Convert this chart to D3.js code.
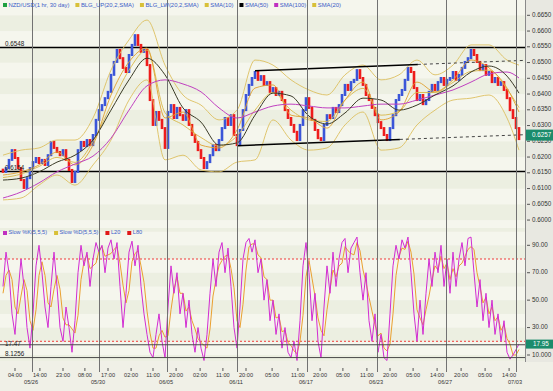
<!DOCTYPE html>
<html><head><meta charset="utf-8">
<script src="https://cdn.jsdelivr.net/npm/d3@7"></script>
<style>
html,body{margin:0;padding:0;background:#fff;}
svg{display:block;font-family:"Liberation Sans",Arial,sans-serif;}
</style></head><body>
<svg id="c" width="553" height="391"></svg>
<script>
// ---------------- DATA ----------------
const firstOpen = 0.6160;
const closes = [0.6153,0.6165,0.6191,0.6222,0.6197,0.6165,0.6127,0.6102,0.6133,0.6165,
0.6184,0.6197,0.6181,0.6191,0.6175,0.6206,0.6248,0.6229,0.6216,0.6206,
0.6222,0.6191,0.6159,0.6121,0.6153,0.6222,0.6248,0.6235,0.6254,0.6238,
0.6270,0.6318,0.6349,0.6365,0.6387,0.6407,0.6461,0.6502,0.6540,0.6514,
0.6483,0.6470,0.6524,0.6556,0.6587,0.6556,0.6534,0.6540,0.6492,0.6381,
0.6302,0.6343,0.6318,0.6292,0.6229,0.6343,0.6365,0.6324,0.6356,0.6333,
0.6318,0.6349,0.6302,0.6270,0.6248,0.6222,0.6197,0.6165,0.6184,0.6206,
0.6238,0.6222,0.6254,0.6292,0.6324,0.6302,0.6333,0.6270,0.6238,0.6286,
0.6349,0.6397,0.6429,0.6451,0.6470,0.6445,0.6457,0.6429,0.6438,0.6407,
0.6419,0.6397,0.6407,0.6381,0.6349,0.6324,0.6302,0.6280,0.6254,0.6302,
0.6349,0.6387,0.6356,0.6318,0.6286,0.6260,0.6254,0.6302,0.6333,0.6324,
0.6356,0.6343,0.6365,0.6397,0.6429,0.6413,0.6438,0.6445,0.6476,0.6451,
0.6429,0.6397,0.6381,0.6356,0.6333,0.6311,0.6292,0.6270,0.6254,0.6292,
0.6333,0.6381,0.6397,0.6413,0.6445,0.6483,0.6470,0.6419,0.6381,0.6397,
0.6368,0.6381,0.6407,0.6429,0.6413,0.6438,0.6451,0.6429,0.6445,0.6451,
0.6470,0.6445,0.6461,0.6483,0.6502,0.6514,0.6540,0.6524,0.6502,0.6476,
0.6492,0.6461,0.6470,0.6438,0.6451,0.6429,0.6438,0.6413,0.6387,0.6349,
0.6324,0.6292,0.6257];

const maIdx  = [0,6,12,18,24,30,36,42,48,54,60,66,72,78,84,90,96,102,108,114,120,126,132,138,144,150,156,162,168,172];
const sma50  = [0.6127,0.6133,0.6153,0.6184,0.6206,0.6254,0.6349,0.6445,0.6514,0.6461,0.6356,0.6311,0.6238,0.6245,0.6333,0.6403,0.6394,0.6330,0.6305,0.6340,0.6387,0.6381,0.6349,0.6365,0.6397,0.6426,0.6470,0.6489,0.6457,0.6403];
const sma100 = [0.6070,0.6089,0.6118,0.6153,0.6178,0.6203,0.6260,0.6349,0.6426,0.6445,0.6432,0.6407,0.6356,0.6324,0.6343,0.6362,0.6368,0.6362,0.6356,0.6356,0.6362,0.6368,0.6368,0.6381,0.6397,0.6413,0.6438,0.6464,0.6470,0.6451];
const bbUp   = [0.6206,0.6222,0.6229,0.6254,0.6254,0.6324,0.6476,0.6572,0.6635,0.6492,0.6397,0.6365,0.6318,0.6349,0.6508,0.6492,0.6445,0.6413,0.6397,0.6461,0.6492,0.6445,0.6461,0.6508,0.6461,0.6492,0.6556,0.6556,0.6508,0.6492];
const bbLow  = [0.6064,0.6070,0.6111,0.6143,0.6111,0.6175,0.6254,0.6381,0.6445,0.6191,0.6206,0.6159,0.6153,0.6184,0.6191,0.6318,0.6254,0.6222,0.6229,0.6302,0.6343,0.6222,0.6229,0.6302,0.6349,0.6381,0.6387,0.6397,0.6324,0.6222];
const sma20  = [0.6135,0.6146,0.6170,0.6199,0.6183,0.6249,0.6365,0.6476,0.6540,0.6341,0.6302,0.6262,0.6235,0.6267,0.6349,0.6405,0.6349,0.6318,0.6313,0.6381,0.6418,0.6333,0.6345,0.6405,0.6405,0.6437,0.6472,0.6476,0.6416,0.6357];
const sma10  = [0.6143,0.6153,0.6175,0.6216,0.6175,0.6238,0.6397,0.6502,0.6546,0.6324,0.6343,0.6238,0.6229,0.6286,0.6419,0.6429,0.6333,0.6324,0.6292,0.6381,0.6438,0.6318,0.6343,0.6438,0.6407,0.6445,0.6508,0.6483,0.6419,0.6343];

const stochK = [60,85,70,40,25,55,80,60,30,15,
40,75,90,70,45,30,60,85,60,30,
20,45,30,12,35,70,90,75,85,60,
80,92,85,90,70,88,94,80,92,60,
30,55,85,93,75,90,60,40,25,12,
8,25,40,20,8,45,75,55,70,40,
55,30,50,25,12,30,15,6,25,55,
80,60,85,92,70,88,60,30,15,45,
80,92,95,85,94,70,80,50,65,35,
50,25,40,15,30,12,8,20,6,35,
75,92,70,35,55,20,8,45,75,55,
85,60,80,92,95,70,88,92,96,70,
50,70,35,20,40,12,25,8,6,40,
75,90,80,94,88,96,70,40,20,50,
25,55,80,60,85,70,90,60,80,55,
85,60,80,92,75,95,96,70,45,65,
35,55,30,50,25,40,20,35,12,7,
10,14,17.95];
const stochD = [55,68,72,65,45,40,53,65,57,35,
28,43,68,78,68,48,45,58,68,58,
37,32,32,29,26,39,65,78,83,73,
75,77,86,89,82,83,84,87,89,77,
61,48,57,78,84,86,75,63,42,26,
15,15,24,28,23,24,43,58,67,55,
55,42,45,35,29,22,19,17,15,29,
53,65,75,79,82,83,73,59,35,30,
47,72,89,91,91,83,81,67,65,50,
50,37,38,27,28,19,17,13,11,20,
39,67,79,66,53,37,28,24,43,58,
72,67,75,77,89,86,84,83,92,86,
72,63,52,42,32,24,26,15,13,18,
40,68,82,88,87,93,85,69,43,37,
32,43,53,65,75,72,82,73,77,65,
73,67,75,77,82,87,89,87,70,60,
48,52,40,45,35,38,28,32,22,18,
10,10,14];

const priceTicks = [0.6000,0.6050,0.6100,0.6150,0.6200,0.6250,0.6300,0.6350,0.6400,0.6450,0.6500,0.6550,0.6600,0.6650];
const stochTicks = [10,30,50,70,90];
const stochTickLabels = ["10.000","30.00","50.00","70.00","90.00"];
const timeTickIdx = [4,12.3,20,27.3,35,42.7,50,57.7,65.7,73.3,81,89.7,98.3,105.7,113.3,121.3,129,136.7,144.7,152.7,160.7,168.7];
const timeTickLabels = ["04:00","14:00","23:00","08:00","17:00","02:00","11:00","20:00","02:00","11:00","20:00","05:00","11:00","20:00","05:00","11:00","20:00","05:00","14:00","20:00","05:00","14:00"];
const dateTickIdx = [9.7,32,54.7,78,101.3,124.7,147.7,171];
const dateTickLabels = ["05/26","05/30","06/05","06/11","06/17","06/23","06/27","07/03"];
const priceLevels = [0.6548,0.6154];
const priceLevelLabels = ["0.6548","0.6154"];
const stochLevels = [17.47,8.1256];
const stochLevelLabels = ["17.47","8.1256"];
const stochBounds = [20,80];
const channelTop = [[84,0.6474],[138.3,0.6494],[174,0.6507]];
const channelBottom = [[78,0.6236],[132.3,0.6256],[174,0.6271]];
const lastPrice = 0.6257, lastStoch = 17.95;
const topLegend = [["NZD/USD(1 hr, 30 day)","#1fa040"],["BLG_UP(20,2,SMA)","#d8c038"],["BLG_LW(20,2,SMA)","#d8c038"],["SMA(10)","#d8c038"],["SMA(50)","#000000"],["SMA(100)","#c030c0"],["SMA(20)","#d8c038"]];
const lowLegend = [["Slow %K(5,5,5)","#c030c0"],["Slow %D(5,5,5)","#d8c038"],["L20","#e01818"],["L80","#e01818"]];

// ---------------- LAYOUT ----------------
const W=553,H=391,PR=525,P_BOT=228,S_TOP=228,S_BOT=361;
const svg = d3.select('#c');
const x = d3.scaleLinear().domain([0,172]).range([3,519]);
const yP = d3.scaleLinear().domain([0.59748,0.66986]).range([P_BOT,0]);
const yS = d3.scaleLinear().domain([10,90]).range([355,245.3]);

const defs = svg.append('defs');
defs.append('clipPath').attr('id','cp').append('rect').attr('x',0).attr('y',0).attr('width',PR).attr('height',P_BOT);
defs.append('clipPath').attr('id','cs').append('rect').attr('x',0).attr('y',S_TOP).attr('width',PR).attr('height',S_BOT-S_TOP);

svg.append('rect').attr('width',W).attr('height',H).attr('fill','#f0f0e7');
svg.append('rect').attr('x',PR).attr('y',0).attr('width',W-PR).attr('height',S_BOT+1).attr('fill','#e8e8e1');

// price bands
const gP = svg.append('g').attr('clip-path','url(#cp)');
d3.range(118,136).forEach(k=>{
  const v=k*0.005;
  gP.append('rect').attr('x',0).attr('width',PR).attr('y',yP(v+0.005)).attr('height',yP(v)-yP(v+0.005))
    .attr('fill', k%2 ? '#f5f6ed' : '#ecefe1');
});
const gS = svg.append('g').attr('clip-path','url(#cs)');
d3.range(-1,11).forEach(k=>{
  const v=k*10;
  gS.append('rect').attr('x',0).attr('width',PR).attr('y',yS(v+10)).attr('height',yS(v)-yS(v+10))
    .attr('fill', (k+10)%2 ? '#f5f6ed' : '#ecefe1');
});

// vertical date lines
svg.append('g').selectAll('line').data(dateTickIdx).join('line')
  .attr('x1',d=>Math.round(x(d))+0.5).attr('x2',d=>Math.round(x(d))+0.5)
  .attr('y1',0).attr('y2',372).attr('stroke','#727272').attr('stroke-width',1);
svg.append('line').attr('x1',PR+0.5).attr('x2',PR+0.5).attr('y1',0).attr('y2',S_BOT+1).attr('stroke','#8a8a8a');

// price level lines
gP.selectAll('line.lv').data(priceLevels).join('line').attr('class','lv')
  .attr('x1',0).attr('x2',PR).attr('y1',d=>yP(d)).attr('y2',d=>yP(d)).attr('stroke','#000').attr('stroke-width',1.5);

// candles
const candles = closes.map((c,i)=>({i, o: i===0?firstOpen:closes[i-1], c}));
gP.append('g').selectAll('rect').data(candles).join('rect')
  .attr('x',d=>x(d.i)-1.3).attr('width',2.6)
  .attr('y',d=>yP(Math.max(d.o,d.c))-1)
  .attr('height',d=>Math.max(2,Math.abs(yP(d.o)-yP(d.c))+2))
  .attr('fill',d=>d.c>=d.o?'#3b55d8':'#ee1c1c');

// moving averages
const maLine = arr => d3.line().x((d,k)=>x(maIdx[k])).y(d=>yP(d)).curve(d3.curveMonotoneX)(arr);
[[bbUp,'#dcc060',0.9],[bbLow,'#dcc060',0.9],[sma20,'#d8b848',0.9],[sma10,'#e0a030',0.9],[sma100,'#c040c0',1],[sma50,'#3a3a26',1]]
.forEach(([arr,col,w])=>{
  gP.append('path').attr('d',maLine(arr)).attr('fill','none').attr('stroke',col).attr('stroke-width',w);
});

// channel lines
const chLine = d3.line().x(d=>x(d[0])).y(d=>yP(d[1]));
[channelTop,channelBottom].forEach(ch=>{
  gP.append('path').attr('d',chLine(ch.slice(0,2))).attr('fill','none').attr('stroke','#000').attr('stroke-width',1.5);
  gP.append('path').attr('d',chLine(ch.slice(1))).attr('fill','none').attr('stroke','#444').attr('stroke-width',1).attr('stroke-dasharray','3,3');
});

// stochastic panel
gS.selectAll('line.sb').data(stochBounds).join('line').attr('class','sb')
  .attr('x1',0).attr('x2',PR).attr('y1',d=>yS(d)).attr('y2',d=>yS(d))
  .attr('stroke','#f03a3a').attr('stroke-width',1).attr('stroke-dasharray','2,2');
svg.selectAll('line.sl').data(stochLevels).join('line').attr('class','sl')
  .attr('x1',0).attr('x2',PR).attr('y1',d=>yS(d)).attr('y2',d=>yS(d)).attr('stroke','#4a4a4a').attr('stroke-width',1);
const sLine = d3.line().x((d,i)=>x(i)).y(d=>yS(d));
gS.append('path').attr('d',sLine(stochD)).attr('fill','none').attr('stroke','#eaa030').attr('stroke-width',1);
gS.append('path').attr('d',sLine(stochK)).attr('fill','none').attr('stroke','#d22cd2').attr('stroke-width',1);

// right axes
const fs = 6.3;
const ra = svg.append('g').attr('font-size',fs).attr('fill','#333');
priceTicks.forEach(v=>{
  ra.append('line').attr('x1',527).attr('x2',530).attr('y1',yP(v)).attr('y2',yP(v)).attr('stroke','#555');
  ra.append('text').attr('x',532).attr('y',yP(v)).attr('dominant-baseline','middle').text(v.toFixed(4));
});
stochTicks.forEach((v,k)=>{
  ra.append('line').attr('x1',527).attr('x2',530).attr('y1',yS(v)).attr('y2',yS(v)).attr('stroke','#555');
  ra.append('text').attr('x',532).attr('y',yS(v)).attr('dominant-baseline','middle').text(stochTickLabels[k]);
});
// last-value labels
const lp = yP(lastPrice)-4;
svg.append('rect').attr('x',526).attr('y',lp-5.5).attr('width',27).attr('height',11).attr('fill','#1b8c6c');
svg.append('text').attr('x',532).attr('y',lp).attr('dominant-baseline','middle').attr('font-size',fs).attr('fill','#fff').text(lastPrice.toFixed(4));
const ls = yS(lastStoch);
svg.append('rect').attr('x',526).attr('y',ls-4.5).attr('width',27).attr('height',9).attr('fill','#1b8c6c');
svg.append('text').attr('x',533).attr('y',ls).attr('dominant-baseline','middle').attr('font-size',fs).attr('fill','#fff').text(lastStoch.toFixed(2));

// left level labels
priceLevels.forEach((v,k)=>{
  svg.append('text').attr('x',5).attr('y',yP(v)-1.5).attr('font-size',6.3).attr('fill','#222').text(priceLevelLabels[k]);
});
stochLevels.forEach((v,k)=>{
  svg.append('text').attr('x',5).attr('y',yS(v)+(k===0?1:-1.5)).attr('font-size',6.3).attr('fill','#222').text(stochLevelLabels[k]);
});

// bottom axis
const ba = svg.append('g').attr('font-size',5.6).attr('fill','#333').attr('text-anchor','middle');
timeTickIdx.forEach((t,k)=>{
  ba.append('line').attr('x1',x(t)).attr('x2',x(t)).attr('y1',368).attr('y2',371).attr('stroke','#555');
  ba.append('text').attr('x',x(t)).attr('y',375.5).attr('dominant-baseline','middle').text(timeTickLabels[k]);
});
dateTickIdx.forEach((t,k)=>{
  ba.append('text').attr('x',x(t)-1).attr('y',383).attr('dominant-baseline','middle').text(dateTickLabels[k]);
});

// legends
function legend(items,y,size,gap){
  let cx=3;
  items.forEach(([t,c])=>{
    svg.append('rect').attr('x',cx).attr('y',y-2).attr('width',4).attr('height',4).attr('fill',c);
    const tx=svg.append('text').attr('x',cx+5.5).attr('y',y).attr('dominant-baseline','middle')
      .attr('font-size',size).attr('fill','#3a5cc8').text(t);
    cx = cx+5.5+tx.node().getComputedTextLength()+gap;
  });
}
legend(topLegend,5,5.9,6);
legend(lowLegend,233,5.6,7);
</script>
</body></html>
